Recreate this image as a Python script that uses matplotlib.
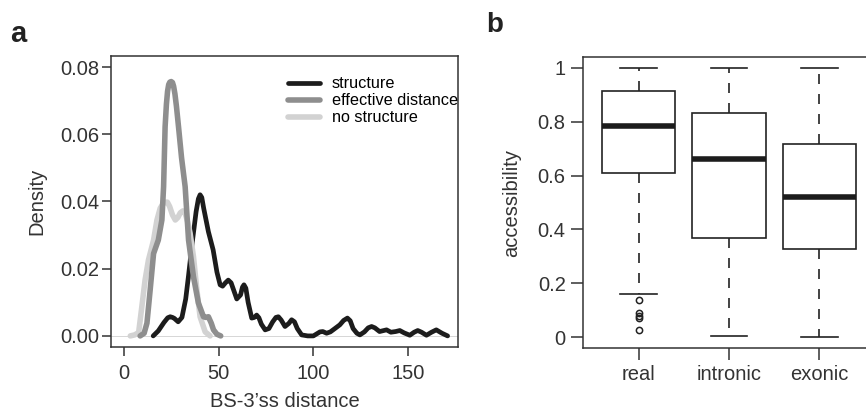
import matplotlib
matplotlib.use('Agg')
import matplotlib.pyplot as plt

plt.rcParams['font.family'] = ['Liberation Sans', 'DejaVu Sans']

# panel a: density curves
struct_x = [15.3, 18, 21, 23, 24.3, 25.5, 26.5, 28.5, 30.5, 32.5, 34, 36, 38, 39.2, 40.1, 41, 42,
            44.5, 47, 49, 50.7, 52, 53.5, 55, 56.5, 57.5, 59.5, 61.5, 62.5, 63.3, 64.3, 65.5,
            67.4, 68.8, 70, 71.2, 72.5, 74.5, 76.5, 78.5, 80.2, 81.5, 83, 85, 87, 88.5, 90,
            91.5, 93.8, 97, 100, 103.5, 105, 107, 109, 111.4, 114, 116, 118, 119.5, 121, 123,
            124.6, 127, 129, 130.8, 132.5, 135, 138.7, 141, 143.5, 145.7, 148, 151, 153.3,
            155.2, 157.2, 159.8, 162.5, 165, 168, 171]
struct_y = [0.0, 0.0015, 0.004, 0.0054, 0.0057, 0.0055, 0.0052, 0.0042, 0.0055, 0.011, 0.018,
            0.028, 0.037, 0.0408, 0.042, 0.0412, 0.038, 0.031, 0.0256, 0.019, 0.0152, 0.0148,
            0.0158, 0.0166, 0.0158, 0.0142, 0.011, 0.0122, 0.0145, 0.0152, 0.0142, 0.010,
            0.0053, 0.0055, 0.0062, 0.0054, 0.0035, 0.0018, 0.0022, 0.0042, 0.0055, 0.0057,
            0.0047, 0.0028, 0.0037, 0.0048, 0.0042, 0.0022, 0.0003, 0.0, 0.0, 0.0012, 0.0013,
            0.0008, 0.0012, 0.0022, 0.0033, 0.0046, 0.0053, 0.0045, 0.0022, 0.0008, 0.0003,
            0.0012, 0.0024, 0.0028, 0.0024, 0.0013, 0.0018, 0.0011, 0.0013, 0.0016, 0.0009,
            0.0002, 0.0011, 0.0016, 0.0011, 0.0002, 0.0011, 0.0018, 0.0008, 0.0]

eff_x = [8.4, 10.5, 12, 13.7, 15.5, 18, 19.9, 20.8, 21.6, 22.3, 22.9, 23.5, 24.1, 24.8, 25.5,
         26.1, 26.8, 27.6, 28.7, 30.3, 32.2, 34, 36.6, 39.2, 41.9, 43.2, 44.5, 46, 47.2, 49, 51]
eff_y = [0.0, 0.0008, 0.0038, 0.0137, 0.0245, 0.0285, 0.0345, 0.0444, 0.0622, 0.069, 0.0728,
         0.0748, 0.0755, 0.0757, 0.0754, 0.0743, 0.072, 0.0683, 0.0622, 0.053, 0.0444, 0.0285,
         0.0176, 0.0098, 0.0057, 0.0055, 0.0057, 0.0038, 0.0018, 0.0005, 0.0]

nostr_x = [3.2, 5.5, 7.6, 9.3, 11, 12.8, 15.5, 17.3, 19, 20.5, 21.8, 22.8, 24, 25.5, 27, 28.3,
           29.6, 31, 32.2, 33.6, 34.8, 36.6, 38.4, 40.1, 42.8, 45.4]
nostr_y = [0.0, 0.0003, 0.001, 0.0087, 0.0166, 0.0226, 0.0285, 0.0345, 0.038, 0.0393, 0.0398,
           0.0398, 0.0385, 0.036, 0.0345, 0.0352, 0.0366, 0.0372, 0.0365, 0.0338, 0.0306,
           0.0236, 0.0137, 0.0057, 0.0012, 0.0]

# panel b: box plot statistics
groups = ['real', 'intronic', 'exonic']
q1 = [0.611, 0.368, 0.328]
med = [0.784, 0.661, 0.519]
q3 = [0.915, 0.833, 0.717]
wlo = [0.161, 0.003, 0.0]
whi = [1.0, 1.0, 1.0]
outliers = [[0.137, 0.09, 0.08, 0.07, 0.028], [], []]

fig = plt.figure(figsize=(8.66, 4.09), dpi=100)
axa = fig.add_axes([0.1282, 0.1516, 0.4007, 0.7115])
axb = fig.add_axes([0.6732, 0.1491, 0.3372, 0.7115])

axa.axhline(0, color='#d0d0d0', lw=0.6, zorder=1)
axa.plot(struct_x, struct_y, color='#1c1c1c', lw=3.4, solid_joinstyle='round',
         solid_capstyle='round', label='structure', zorder=2)
axa.plot(nostr_x, nostr_y, color='#d2d2d2', lw=4, solid_joinstyle='round',
         solid_capstyle='round', label='no structure', zorder=3)
axa.plot(eff_x, eff_y, color='#8e8e8e', lw=4, solid_joinstyle='round',
         solid_capstyle='round', label='effective distance', zorder=4)

h, l = axa.get_legend_handles_labels()
order = [0, 2, 1]
axa.legend([h[i] for i in order], [l[i] for i in order], loc='upper left',
           bbox_to_anchor=(0.51, 0.93), frameon=False, fontsize=11.7,
           handlelength=2.0, handletextpad=0.7, labelspacing=0.12,
           borderpad=0, borderaxespad=0)

axa.set_xlim(-7, 176.5)
axa.set_ylim(-0.0033, 0.0833)
axa.set_xticks([0, 50, 100, 150])
axa.set_yticks([0, 0.02, 0.04, 0.06, 0.08])
axa.set_yticklabels(['0.00', '0.02', '0.04', '0.06', '0.08'])
axa.set_xlabel("BS-3\u2019ss distance", fontsize=14.5, labelpad=6, color='#333333')
axa.set_ylabel('Density', fontsize=14.5, labelpad=10, color='#333333')

stats = []
for i in range(len(groups)):
    stats.append({'label': groups[i], 'q1': q1[i], 'med': med[i], 'q3': q3[i],
                  'whislo': wlo[i], 'whishi': whi[i], 'fliers': outliers[i]})
axb.bxp(stats, positions=[1, 2, 3], widths=0.81, patch_artist=True,
        boxprops=dict(facecolor='white', edgecolor='#222222', lw=1.2),
        medianprops=dict(color='#1c1c1c', lw=4, solid_capstyle='butt'),
        whiskerprops=dict(color='#222222', lw=1.2, linestyle=(0, (6, 6))),
        capprops=dict(color='#222222', lw=1.2),
        capwidths=0.41,
        flierprops=dict(marker='o', markerfacecolor='none', markeredgecolor='#222222',
                        markersize=4.5, markeredgewidth=1.1))
axb.set_xlim(0.38, 3.62)
axb.set_ylim(-0.04, 1.04)
axb.set_yticks([0, 0.2, 0.4, 0.6, 0.8, 1])
axb.set_yticklabels(['0', '0.2', '0.4', '0.6', '0.8', '1'])
axb.set_ylabel('accessibility', fontsize=14.5, labelpad=12, color='#333333')

for ax in (axa, axb):
    for s in ax.spines.values():
        s.set_linewidth(1.1)
        s.set_color('#333333')
    ax.tick_params(labelsize=14.5, width=1.1, color='#333333', labelcolor='#333333')
axa.tick_params(length=6.5)
axa.tick_params(axis='y', pad=2)
axa.tick_params(axis='x', pad=6)
axb.tick_params(length=8.5)
axb.tick_params(axis='y', pad=4)
axb.tick_params(axis='x', pad=4)

fig.text(18 / 866, 1 - 42 / 409, 'a', fontsize=21, fontweight='bold', ha='center',
         va='baseline', color='#222222')
fig.text(495 / 866, 1 - 32 / 409, 'b', fontsize=20, fontweight='bold', ha='center',
         va='baseline', color='#222222')

fig.savefig('out.png', dpi=100)
